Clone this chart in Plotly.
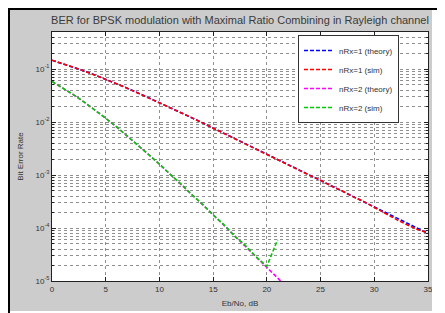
import plotly.graph_objects as go

eb_n0_db = list(range(0, 36))

theory_nrx1 = [0.1464, 0.1267, 0.1085, 0.09191, 0.07714, 0.06418, 0.05300, 0.04348,
               0.03546, 0.02878, 0.02327, 0.01875, 0.01506, 0.01208, 0.009666, 0.007723,
               0.006164, 0.004915, 0.003916, 0.003118, 0.002481, 0.001974, 0.001570,
               0.001248, 0.000992, 0.000789, 0.000627, 0.000498, 0.000396, 0.000314,
               0.000250, 0.000199, 0.000158, 0.000125, 0.0000995, 0.0000790]

sim_nrx1 = [0.1463, 0.1269, 0.1083, 0.09205, 0.07701, 0.06425, 0.05291, 0.04356,
            0.03539, 0.02886, 0.02321, 0.01881, 0.01502, 0.01212, 0.009631, 0.007752,
            0.006139, 0.004931, 0.003897, 0.003131, 0.002466, 0.001987, 0.001558,
            0.001259, 0.000981, 0.000797, 0.000619, 0.000504, 0.000391, 0.000318,
            0.000243, 0.000188, 0.000147, 0.000116, 0.0000940, 0.0000810]

theory_nrx2 = [0.05806, 0.04411, 0.03275, 0.02379, 0.01693, 0.01183, 0.008129, 0.005506,
               0.003683, 0.002438, 0.001599, 0.001041, 0.000674, 0.000434, 0.0002785,
               0.0001780, 0.0001135, 0.00007223, 0.00004588, 0.00002911, 0.00001844,
               0.00001168, 0.000007387, 0.000004669, 0.000002950, 0.000001866,
               0.000001179, 7.44e-7, 4.70e-7, 2.96e-7, 1.875e-7, 1.19e-7, 7.5e-8,
               4.7e-8, 2.97e-8, 1.87e-8]

sim_nrx2 = [0.05812, 0.04405, 0.03281, 0.02372, 0.01699, 0.01179, 0.008152, 0.005488,
            0.003701, 0.002421, 0.001612, 0.001032, 0.000681, 0.000428, 0.0002831,
            0.0001752, 0.0001162, 0.00007010, 0.00004710, 0.00002850, 0.00001900,
            0.00006000, None, None, None, None, None, None, None, None, None, None,
            None, None, None, None]

series_names = ["nRx=1 (theory)", "nRx=1 (sim)", "nRx=2 (theory)", "nRx=2 (sim)"]
series_colors = ["#0000ff", "#ff0000", "#ff00ff", "#00cc00"]

ytick_vals = [1e-5, 1e-4, 1e-3, 1e-2, 1e-1]
ytick_text = ["10<sup>-5</sup>", "10<sup>-4</sup>", "10<sup>-3</sup>",
              "10<sup>-2</sup>", "10<sup>-1</sup>"]
yminor_vals = [m * d for d in ytick_vals for m in range(2, 10) if m * d <= 0.5]

xtick_vals = [0, 5, 10, 15, 20, 25, 30, 35]

fig = go.Figure()
for name, col, ys in zip(series_names, series_colors,
                         [theory_nrx1, sim_nrx1, theory_nrx2, sim_nrx2]):
    fig.add_trace(go.Scatter(x=eb_n0_db, y=ys, mode="lines", name=name,
                             line=dict(color=col, width=1.6, dash="4px,2px"),
                             connectgaps=False))

# page body adds an 8px offset; figure coordinates below
W, H = 437, 305
L, R, T, B = 44, 420, 24, 273

def px(xp):
    return (xp - L) / (R - L)

def py(yp):
    return (B - yp) / (B - T)

shapes = [
    dict(type="rect", xref="paper", yref="paper", x0=px(424), x1=px(W + 2), y0=py(H + 2), y1=py(-2),
         fillcolor="white", line=dict(width=0), layer="above"),
    dict(type="rect", xref="paper", yref="paper", x0=px(-2), x1=px(W + 2), y0=py(H + 2), y1=py(303),
         fillcolor="white", line=dict(width=0), layer="above"),
    dict(type="line", xref="paper", yref="paper", x0=px(1), x1=px(1), y0=py(H + 2), y1=py(0),
         line=dict(color="black", width=2), layer="above"),
    dict(type="line", xref="paper", yref="paper", x0=px(0), x1=px(W + 2), y0=py(1), y1=py(1),
         line=dict(color="black", width=2), layer="above"),
]

font_family = "Liberation Sans, Arial, sans-serif"
axis_font = dict(family=font_family, size=8, color="#333333")
grid_color = "#8f8f8f"

fig.update_layout(
    width=W, height=H,
    margin=dict(l=L, r=W - R, t=T, b=H - B, pad=0, autoexpand=False),
    paper_bgcolor="#cccccc",
    plot_bgcolor="white",
    shapes=shapes,
    showlegend=True,
    title=dict(text="BER for BPSK modulation with Maximal Ratio Combining in Rayleigh channel",
               x=(L + R) / 2 / W, xanchor="center", y=1 - 12 / H, yanchor="middle",
               font=dict(family=font_family, size=11, color="#3a3a3a")),
    legend=dict(x=px(290), y=py(27), xanchor="left", yanchor="top",
                bgcolor="white", bordercolor="#333333", borderwidth=1,
                font=dict(family=font_family, size=8, color="#333333"),
                tracegroupgap=0, itemwidth=30),
    xaxis=dict(range=[0, 35], tickvals=xtick_vals, ticks="inside", ticklen=4,
               showline=True, linecolor="#222222", linewidth=1, mirror="ticks",
               tickcolor="#222222", showgrid=True, gridcolor=grid_color, griddash="dot",
               gridwidth=1, zeroline=False, tickfont=axis_font, automargin=False,
               title=dict(text="Eb/No, dB", font=axis_font, standoff=7)),
    yaxis=dict(type="log", range=[-5, -0.30103], tickvals=ytick_vals, ticktext=ytick_text,
               ticks="inside", ticklen=4, showline=True, linecolor="#222222", linewidth=1,
               mirror="ticks", tickcolor="#222222", showgrid=True, gridcolor=grid_color,
               griddash="dot", gridwidth=1, zeroline=False, tickfont=axis_font,
               automargin=False,
               minor=dict(tickvals=yminor_vals, ticks="inside", ticklen=2,
                          tickcolor="#222222", showgrid=True, gridcolor=grid_color,
                          griddash="dot", gridwidth=1),
               title=dict(text="Bit Error Rate", font=axis_font, standoff=10)),
)

fig.write_html("out.html")
